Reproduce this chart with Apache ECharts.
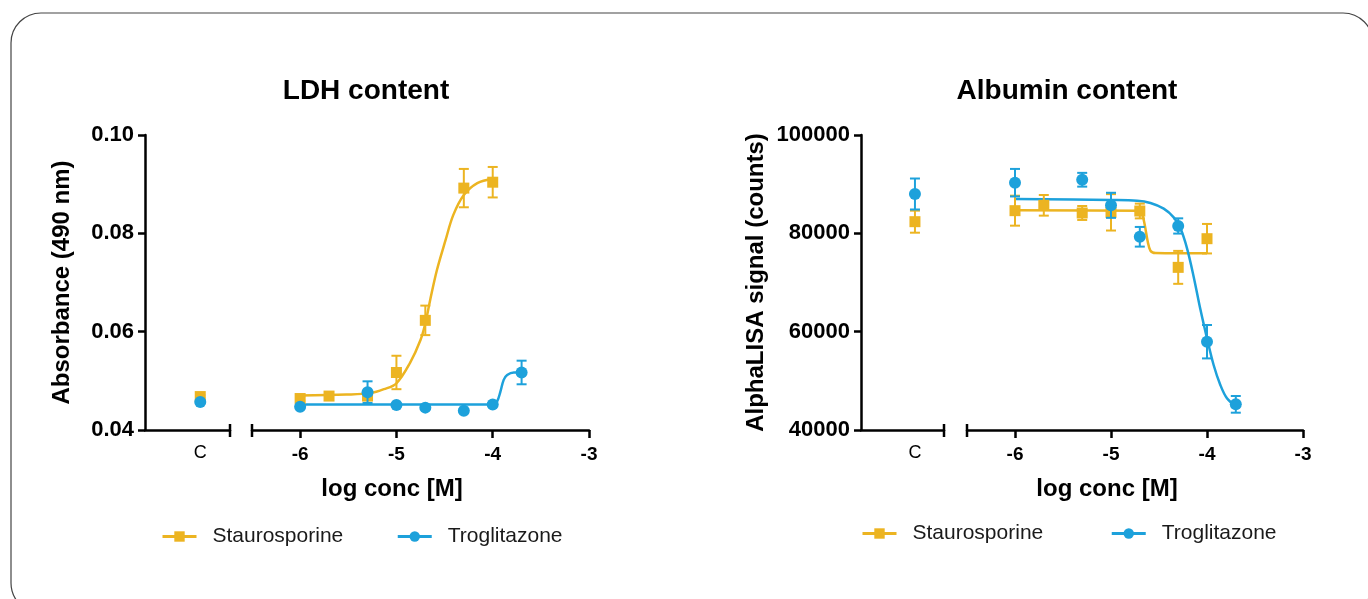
<!DOCTYPE html>
<html><head><meta charset="utf-8">
<script src="https://cdn.jsdelivr.net/npm/echarts@6/dist/echarts.min.js"></script>
<style>html,body{margin:0;padding:0;background:#fff}#c{width:1368px;height:599px}</style>
</head><body><div id="c"></div>
<script>
// ---------- DATA ----------
const logConc = [-6, -5.7, -5.3, -5, -4.7, -4.3, -4, -3.7];
const seriesNames = ['Staurosporine', 'Troglitazone'];
const xTickValues = [-6, -5, -4, -3];
const ctrlLabel = 'C';

// LDH content (Absorbance 490 nm)
const ldhStauro    = [0.0464, 0.0469, 0.0469, 0.0517, 0.0623, 0.0892, 0.0904, null];
const ldhStauroErr = [0.0004, 0.0004, 0.0006, 0.0034, 0.0030, 0.0039, 0.0031, null];
const ldhTrog      = [0.04475, null, 0.0477, 0.0451, 0.04455, 0.0439, 0.0452, 0.0517];
const ldhTrogErr   = [0.0003, null, 0.0022, 0.0003, 0.0003, 0.0003, 0.0003, 0.0024];
const ldhCtrlStauro = 0.0468, ldhCtrlStauroErr = 0.0003;
const ldhCtrlTrog = 0.0457, ldhCtrlTrogErr = 0.0003;
const ldhStauroFitX = [-6, -5.52, -5.27, -5.13, -5.0, -4.86, -4.75, -4.70, -4.65, -4.58, -4.49, -4.41, -4.30, -4.16, -4.0];
const ldhStauroFitY = [0.0470, 0.0472, 0.0475, 0.0483, 0.0495, 0.0536, 0.0583, 0.0617, 0.0664, 0.0725, 0.0786, 0.0837, 0.0878, 0.0902, 0.0911];
const ldhTrogFitX = [-6, -4.0, -3.955, -3.92, -3.886, -3.85, -3.78, -3.7];
const ldhTrogFitY = [0.0452, 0.0452, 0.0458, 0.0478, 0.0502, 0.0512, 0.0517, 0.0517];
const ldhYTicks = [0.04, 0.06, 0.08, 0.10];

// Albumin content (AlphaLISA counts)
const albStauro    = [84610, 85700, 84140, 84270, 84540, 73080, 78910, null];
const albStauroErr = [3050, 2100, 1420, 3700, 1500, 3350, 3000, null];
const albTrog      = [90300, null, 90900, 85700, 79300, 81500, 57960, 45220];
const albTrogErr   = [2800, null, 1400, 2550, 2000, 1550, 3400, 1700];
const albCtrlStauro = 82370, albCtrlStauroErr = 2240;
const albCtrlTrog = 88000, albCtrlTrogErr = 3150;
const albStauroFitX = [-6, -4.7, -4.672, -4.645, -4.617, -4.589, -4.537, -4.0];
const albStauroFitY = [84677, 84610, 83728, 81355, 78304, 76473, 75999, 75931];
const albTrogFitX = [-6, -5.0, -4.728, -4.589, -4.451, -4.347, -4.277, -4.208, -4.139, -4.069, -4.0, -3.931, -3.861, -3.792, -3.702];
const albTrogFitY = [86982, 86779, 86643, 86168, 85016, 83253, 81016, 76948, 71185, 64540, 58642, 53218, 49150, 46437, 44878];
const albYTicks = [40000, 60000, 80000, 100000];

// ---------- STYLE / LAYOUT ----------
const ORANGE = '#ECB421', BLUE = '#1DA1DB';
const FONT = "'Liberation Sans', Arial, sans-serif";
const C_POS = 0.65;      // position of control point within the control segment
const C_MIN = 0, C_MAX = 1;
const LOG_MIN = -6.5, LOG_MAX = -3;

function pts(xs, ys, es) {
  const out = [];
  xs.forEach((x, i) => { if (ys[i] != null) out.push(es ? [x, ys[i], es[i]] : [x, ys[i]]); });
  return out;
}
function errItem(params, api) {
  const x = api.value(0), y = api.value(1), e = api.value(2);
  const t = api.coord([x, y + e]), b = api.coord([x, y - e]);
  const hw = 5;
  const st = { stroke: api.visual('color'), lineWidth: 2 };
  return { type: 'group', children: [
    { type: 'line', shape: { x1: t[0], y1: t[1], x2: b[0], y2: b[1] }, style: st },
    { type: 'line', shape: { x1: t[0] - hw, y1: t[1], x2: t[0] + hw, y2: t[1] }, style: st },
    { type: 'line', shape: { x1: b[0] - hw, y1: b[1], x2: b[0] + hw, y2: b[1] }, style: st }
  ]};
}
// vertical cap across the x axis at an axis-break end (value x, at the y-axis minimum)
function capItem(params, api) {
  const p = api.coord([api.value(0), api.value(1)]);
  return { type: 'line', shape: { x1: p[0], y1: p[1] - 6, x2: p[0], y2: p[1] + 7 },
    style: { stroke: '#000', lineWidth: 2.5 } };
}

const axisLine = { show: true, lineStyle: { color: '#000', width: 2.5 } };
const xTickLbl = { color: '#000', fontFamily: FONT, fontWeight: 'bold', fontSize: 19 };
const yTickLbl = { color: '#000', fontFamily: FONT, fontWeight: 'bold', fontSize: 22 };

function xAxesFor(gC, gL) {
  return [
    { type: 'value', gridIndex: gC, position: 'bottom', min: C_MIN, max: C_MAX, axisLine: axisLine, splitLine: { show: false },
      axisTick: { show: false },
      axisLabel: { show: true, customValues: [C_POS], formatter: () => ctrlLabel, color: '#000', fontFamily: FONT, fontSize: 18, margin: 14 } },
    { type: 'value', gridIndex: gL, position: 'bottom', min: LOG_MIN, max: LOG_MAX, axisLine: axisLine, splitLine: { show: false },
      axisTick: { show: true, customValues: xTickValues, length: 8, lineStyle: { color: '#000', width: 2.5 } },
      axisLabel: Object.assign({ show: true, customValues: xTickValues, margin: 15 }, xTickLbl) }
  ];
}
function yAxesFor(gC, gL, ticks, name, gap, fmt) {
  const mn = ticks[0], mx = ticks[ticks.length - 1], iv = ticks[1] - ticks[0];
  return [
    { type: 'value', gridIndex: gC, min: mn, max: mx, interval: iv, axisLine: axisLine, splitLine: { show: false },
      axisTick: { show: true, length: 7, lineStyle: { color: '#000', width: 2.5 } },
      axisLabel: Object.assign({ formatter: fmt, margin: 11 }, yTickLbl),
      name: name, nameLocation: 'middle', nameGap: gap,
      nameTextStyle: { color: '#000', fontFamily: FONT, fontWeight: 'bold', fontSize: 24 } },
    { type: 'value', gridIndex: gL, min: mn, max: mx, interval: iv, show: false }
  ];
}

function chartSeries(xi, yi, ymin, d) {
  const s = [];
  s.push({ type: 'line', name: seriesNames[0], xAxisIndex: xi + 1, yAxisIndex: yi + 1, data: pts(d.sfx, d.sfy),
    smooth: 0.35, symbol: 'rect', showSymbol: false, silent: true,
    lineStyle: { color: ORANGE, width: 2.5 }, itemStyle: { color: ORANGE }, z: 2 });
  s.push({ type: 'line', name: seriesNames[1], xAxisIndex: xi + 1, yAxisIndex: yi + 1, data: pts(d.tfx, d.tfy),
    smooth: 0.35, symbol: 'circle', showSymbol: false, silent: true,
    lineStyle: { color: BLUE, width: 2.5 }, itemStyle: { color: BLUE }, z: 2 });
  s.push({ type: 'custom', name: 'S-err', xAxisIndex: xi + 1, yAxisIndex: yi + 1, renderItem: errItem,
    itemStyle: { color: ORANGE }, data: pts(logConc, d.s, d.se), z: 3 });
  s.push({ type: 'custom', name: 'S-err-c', xAxisIndex: xi, yAxisIndex: yi, renderItem: errItem,
    itemStyle: { color: ORANGE }, data: [[C_POS, d.sc, d.sce]], z: 3 });
  s.push({ type: 'scatter', name: 'S-pts', xAxisIndex: xi + 1, yAxisIndex: yi + 1, symbol: 'rect', symbolSize: 11,
    itemStyle: { color: ORANGE, opacity: 1 }, data: pts(logConc, d.s), z: 4 });
  s.push({ type: 'scatter', name: 'S-pts-c', xAxisIndex: xi, yAxisIndex: yi, symbol: 'rect', symbolSize: 11,
    itemStyle: { color: ORANGE, opacity: 1 }, data: [[C_POS, d.sc]], z: 4 });
  s.push({ type: 'custom', name: 'T-err', xAxisIndex: xi + 1, yAxisIndex: yi + 1, renderItem: errItem,
    itemStyle: { color: BLUE }, data: pts(logConc, d.t, d.te), z: 5 });
  s.push({ type: 'custom', name: 'T-err-c', xAxisIndex: xi, yAxisIndex: yi, renderItem: errItem,
    itemStyle: { color: BLUE }, data: [[C_POS, d.tc, d.tce]], z: 5 });
  s.push({ type: 'scatter', name: 'T-pts', xAxisIndex: xi + 1, yAxisIndex: yi + 1, symbol: 'circle', symbolSize: 12,
    itemStyle: { color: BLUE, opacity: 1 }, data: pts(logConc, d.t), z: 6 });
  s.push({ type: 'scatter', name: 'T-pts-c', xAxisIndex: xi, yAxisIndex: yi, symbol: 'circle', symbolSize: 12,
    itemStyle: { color: BLUE, opacity: 1 }, data: [[C_POS, d.tc]], z: 6 });
  // axis-break caps
  s.push({ type: 'custom', name: 'cap-c', xAxisIndex: xi, yAxisIndex: yi, renderItem: capItem, silent: true, clip: false,
    data: [[C_MAX, ymin]], z: 7 });
  s.push({ type: 'custom', name: 'cap-l', xAxisIndex: xi + 1, yAxisIndex: yi + 1, renderItem: capItem, silent: true, clip: false,
    data: [[LOG_MIN, ymin]], z: 7 });
  return s;
}

const titleStyle = { color: '#000', fontFamily: FONT, fontWeight: 'bold', fontSize: 28 };
const xNameStyle = { color: '#000', fontFamily: FONT, fontWeight: 'bold', fontSize: 24 };
const legendBase = {
  orient: 'horizontal', itemWidth: 34, itemHeight: 13,
  textStyle: { color: '#1a1a1a', fontFamily: FONT, fontSize: 21, padding: [0, 0, 0, 11] },
  lineStyle: { width: 3 }, data: seriesNames, selectedMode: false
};

const option = {
  backgroundColor: '#fff',
  animation: false,
  graphic: [{ type: 'rect', shape: { x: 11, y: 13, width: 1362, height: 600, r: 30 },
    style: { fill: 'none', stroke: '#444', lineWidth: 1.2 }, silent: true, z: 0 }],
  title: [
    { text: 'LDH content', left: 361, top: 72, textAlign: 'center', textStyle: titleStyle },
    { text: 'Albumin content', left: 1062, top: 72, textAlign: 'center', textStyle: titleStyle },
    { text: 'log conc [M]', left: 387, top: 472, textAlign: 'center', textStyle: xNameStyle },
    { text: 'log conc [M]', left: 1102, top: 472, textAlign: 'center', textStyle: xNameStyle }
  ],
  legend: [
    Object.assign({}, legendBase, { left: 156, top: 521, itemGap: 53 }),
    Object.assign({}, legendBase, { left: 856, top: 518, itemGap: 67 })
  ],
  grid: [
    { left: 145, top: 135, width: 85, height: 295 },
    { left: 252, top: 135, width: 337, height: 295 },
    { left: 861, top: 135, width: 83, height: 295 },
    { left: 967, top: 135, width: 336, height: 295 }
  ],
  xAxis: [].concat(xAxesFor(0, 1), xAxesFor(2, 3)),
  yAxis: [].concat(
    yAxesFor(0, 1, ldhYTicks, 'Absorbance (490 nm)', 71, v => v.toFixed(2)),
    yAxesFor(2, 3, albYTicks, 'AlphaLISA signal (counts)', 93, v => String(v))
  ),
  series: [].concat(
    chartSeries(0, 0, ldhYTicks[0], { s: ldhStauro, se: ldhStauroErr, t: ldhTrog, te: ldhTrogErr,
      sc: ldhCtrlStauro, sce: ldhCtrlStauroErr, tc: ldhCtrlTrog, tce: ldhCtrlTrogErr,
      sfx: ldhStauroFitX, sfy: ldhStauroFitY, tfx: ldhTrogFitX, tfy: ldhTrogFitY }),
    chartSeries(2, 2, albYTicks[0], { s: albStauro, se: albStauroErr, t: albTrog, te: albTrogErr,
      sc: albCtrlStauro, sce: albCtrlStauroErr, tc: albCtrlTrog, tce: albCtrlTrogErr,
      sfx: albStauroFitX, sfy: albStauroFitY, tfx: albTrogFitX, tfy: albTrogFitY })
  )
};
const chart = echarts.init(document.getElementById('c'), null, { renderer: 'canvas' });
chart.setOption(option);
</script></body></html>
